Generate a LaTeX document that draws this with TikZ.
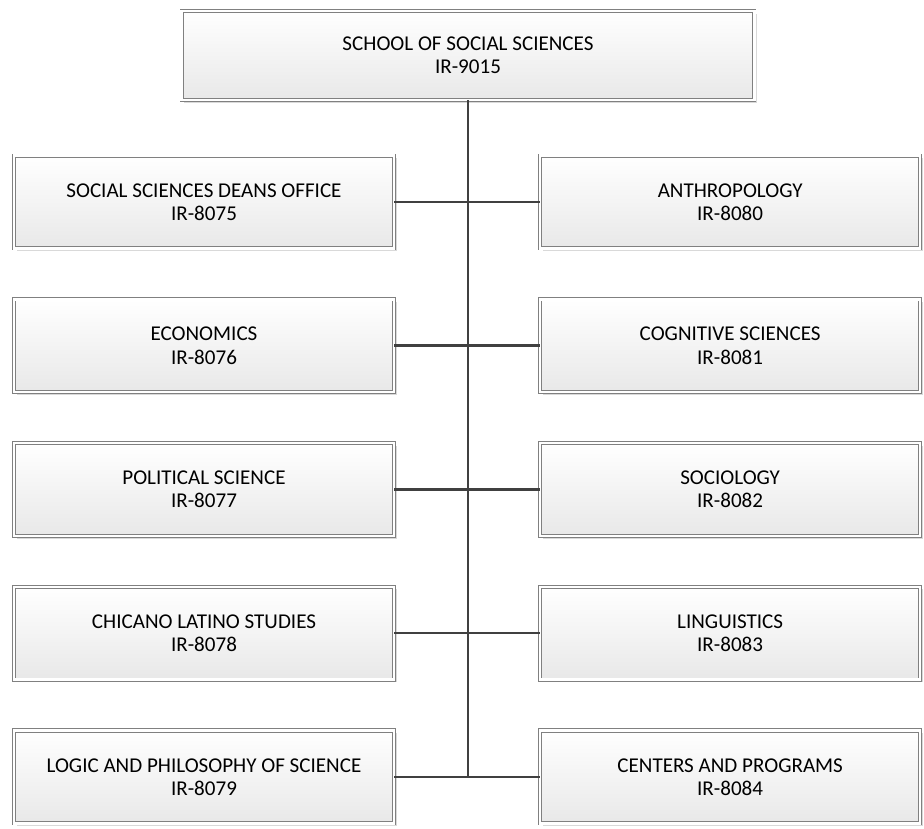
\documentclass[tikz,border=0pt]{standalone}
\usepackage{fontspec}
\setmainfont{Carlito}
\usepackage{tikz}
\usetikzlibrary{positioning,shadows,calc}
\definecolor{boxline}{RGB}{128, 128, 128}
\definecolor{busgray}{RGB}{64, 64, 64}

\begin{document}
\begin{tikzpicture}[
    unitbox/.style={rectangle, draw=boxline, line width=0.6pt, double=white, double distance=1.9pt,
        top color=white, bottom color=black!9, minimum width=285pt, minimum height=69.6pt,
        align=center, font=\fontsize{15.8pt}{17.3pt}\selectfont,
        drop shadow={shadow xshift=2pt, shadow yshift=-2pt, opacity=0.15, fill=black}},
    link/.style={draw=busgray, line width=1.9pt}
]
    \useasboundingbox (0,0) rectangle (693pt,-621pt);

    % Top unit
    \node[unitbox, minimum width=429.6pt, minimum height=66.6pt] (school) at (351pt,-41.6pt) {SCHOOL OF SOCIAL SCIENCES\\IR-9015};

    % Left column
    \node[unitbox] (deans) at (153pt,-151.5pt) {SOCIAL SCIENCES DEANS OFFICE\\IR-8075};
    \node[unitbox, below=37.6pt of deans] (econ) {ECONOMICS\\IR-8076};
    \node[unitbox, below=37.6pt of econ] (polsci) {POLITICAL SCIENCE\\IR-8077};
    \node[unitbox, below=37.6pt of polsci] (chicano) {CHICANO LATINO STUDIES\\IR-8078};
    \node[unitbox, below=37.6pt of chicano] (logic) {LOGIC AND PHILOSOPHY OF SCIENCE\\IR-8079};

    % Right column
    \node[unitbox, right=109pt of deans] (anthro) {ANTHROPOLOGY\\IR-8080};
    \node[unitbox, right=109pt of econ] (cogsci) {COGNITIVE SCIENCES\\IR-8081};
    \node[unitbox, right=109pt of polsci] (socio) {SOCIOLOGY\\IR-8082};
    \node[unitbox, right=109pt of chicano] (ling) {LINGUISTICS\\IR-8083};
    \node[unitbox, right=109pt of logic] (centers) {CENTERS AND PROGRAMS\\IR-8084};

    % Bus
    \coordinate (busend) at (school.south |- logic.east);
    \draw[link] (school.south) -- (busend);

    \draw[link] (deans) -- (anthro);
    \draw[link] (econ) -- (cogsci);
    \draw[link] (polsci) -- (socio);
    \draw[link] (chicano) -- (ling);
    \draw[link] (logic) -- (centers);

\end{tikzpicture}
\end{document}
